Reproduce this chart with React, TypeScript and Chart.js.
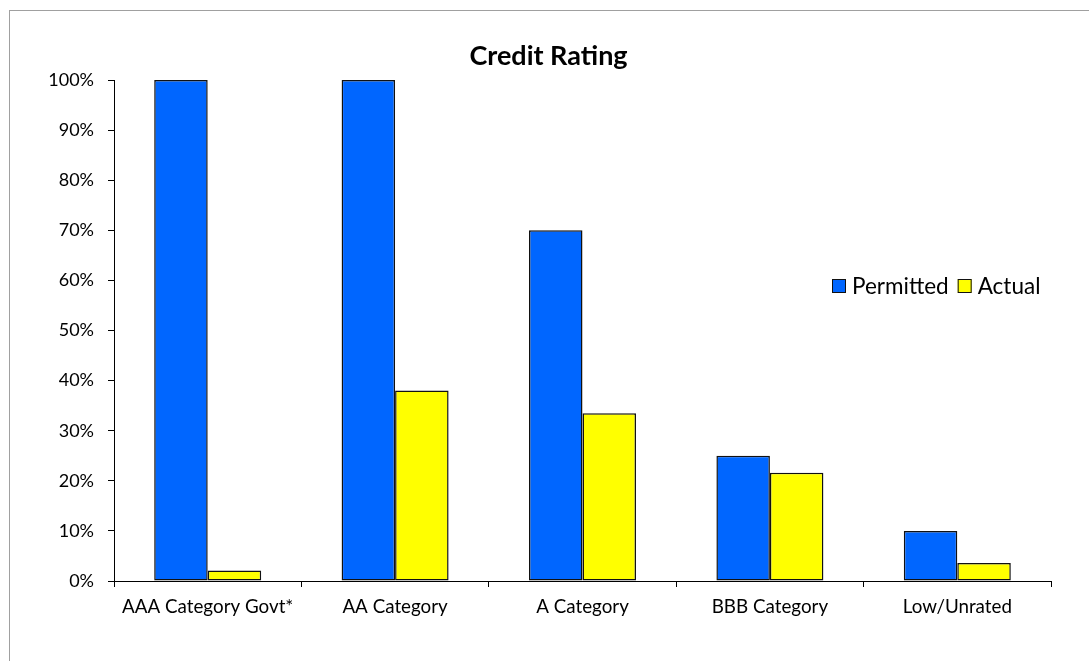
import React, { useEffect, useRef } from "react";
import { Chart, registerables } from "chart.js";

Chart.register(...registerables);

const categories = ["AAA Category Govt*", "AA Category", "A Category", "BBB Category", "Low/Unrated"];
const permitted = [100, 100, 70, 25, 10];
const actual = [2.1, 38, 33.5, 21.6, 3.6];
const seriesNames = ["Permitted", "Actual"];
const yMin = 0;
const yMax = 100;
const yStep = 10;

const FONT = "Lato, 'Open Sans', sans-serif";

const legendPlugin = {
  id: "fixedLegend",
  afterDraw(chart: any) {
    const ctx = chart.ctx;
    ctx.save();
    ctx.font = `22.5px ${FONT}`;
    ctx.textBaseline = "middle";
    ctx.textAlign = "left";
    let x = 832;
    const yc = 286;
    chart.data.datasets.forEach((ds: any) => {
      ctx.fillStyle = ds.backgroundColor;
      ctx.fillRect(x, yc - 7, 14, 14);
      ctx.strokeStyle = "#111";
      ctx.lineWidth = 1;
      ctx.strokeRect(x + 0.5, yc - 6.5, 13, 13);
      x += 14 + 6;
      ctx.fillStyle = "#000";
      ctx.fillText(ds.label, x, yc + 1);
      x += ctx.measureText(ds.label).width + 9;
    });
    ctx.restore();
  },
};

export default function App() {
  const ref = useRef<HTMLCanvasElement | null>(null);
  useEffect(() => {
    if (!ref.current) return;
    const chart = new Chart(ref.current, {
      type: "bar",
      data: {
        labels: categories,
        datasets: [
          {
            label: seriesNames[0],
            data: permitted,
            backgroundColor: "#0066FF",
            borderColor: "#111",
            borderWidth: 1.5,
            borderSkipped: false,
            categoryPercentage: 0.571,
            barPercentage: 1,
          },
          {
            label: seriesNames[1],
            data: actual,
            backgroundColor: "#FFFF00",
            borderColor: "#111",
            borderWidth: 1.5,
            borderSkipped: false,
            categoryPercentage: 0.571,
            barPercentage: 1,
          },
        ],
      },
      options: {
        responsive: false,
        animation: false,
        layout: { padding: { left: 46, right: 38, top: 40, bottom: 0 } },
        plugins: {
          legend: { display: false },
          tooltip: { enabled: false },
          title: {
            display: true,
            text: "Credit Rating",
            color: "#000",
            font: { family: FONT, size: 27, weight: "bold", lineHeight: 1.2 },
            padding: { top: 0, bottom: 7.6 },
          },
        },
        scales: {
          x: {
            grid: {
              display: true,
              drawOnChartArea: false,
              drawTicks: true,
              tickLength: 6,
              color: "#000",
              offset: true,
            },
            border: { display: true, color: "#000", width: 1 },
            ticks: { color: "#000", font: { family: FONT, size: 18.8 }, padding: 9, maxRotation: 0, autoSkip: false },
            afterFit: (s: any) => {
              s.height = 80;
            },
          },
          y: {
            min: yMin,
            max: yMax,
            grid: {
              display: true,
              drawOnChartArea: false,
              drawTicks: true,
              tickLength: 6,
              color: "#000",
            },
            border: { display: true, color: "#000", width: 1 },
            ticks: {
              stepSize: yStep,
              color: "#000",
              font: { family: FONT, size: 18 },
              padding: 14,
              callback: (v: any) => `${v}%`,
            },
            afterFit: (s: any) => {
              s.width = 68;
            },
          },
        },
      },
      plugins: [legendPlugin],
    });
    return () => chart.destroy();
  }, []);

  return (
    <div style={{ position: "absolute", left: 0, top: 0, width: 1089, height: 661, background: "#fff", overflow: "hidden" }}>
      <div
        style={{
          position: "absolute",
          left: 9,
          top: 10,
          width: 1200,
          height: 800,
          borderLeft: "1px solid #a0a0a0",
          borderTop: "1px solid #a0a0a0",
          pointerEvents: "none",
        }}
      />
      <canvas ref={ref} width={1089} height={661} style={{ position: "absolute", left: 0, top: 0 }} />
    </div>
  );
}
